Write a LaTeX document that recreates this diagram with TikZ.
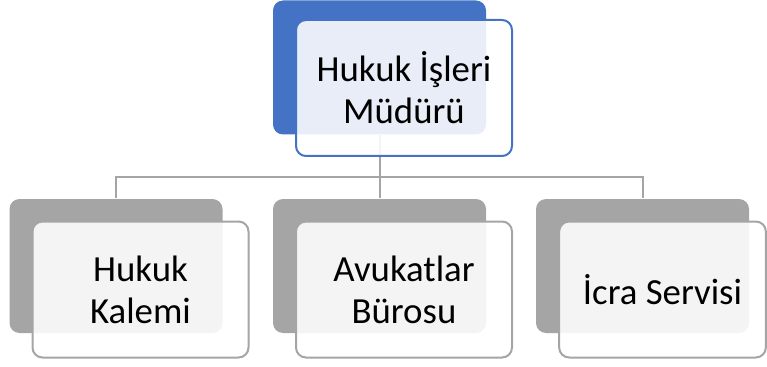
\documentclass[tikz,border=0pt]{standalone}
\usepackage{fontspec}
\setmainfont{Carlito}
\usepackage{tikz}
\definecolor{topblue}{HTML}{4472C4}
\definecolor{midgray}{HTML}{A5A5A5}

\begin{document}
\begin{tikzpicture}[x=0.75pt, y=-0.75pt, thick]
        \tikzstyle{back} = [rectangle, rounded corners=7.5pt, minimum width=159.75pt, minimum height=100.5pt, inner sep=0pt]
        \tikzstyle{front} = [rectangle, draw, line width=1.5pt, fill=white, fill opacity=0.88, text opacity=1, rounded corners=7.5pt, minimum width=162pt, minimum height=102pt, align=center, font=\fontsize{27.6pt}{31.5pt}\selectfont]
        \tikzstyle{conn} = [draw=midgray, line width=1.5pt]
        \useasboundingbox (0,0) rectangle (767,367);
        % connectors
        \node[back] (mudurB) at (379.5,67.5) {};
        \coordinate (bus) at (379.5,177);
        \node[back] (kalemiB) at (116,266) {};
        \node[back] (avukatB) at (379.5,266) {};
        \node[back] (icraB) at (642.5,266) {};
        \draw[conn] (mudurB.south) -- (bus);
        \draw[conn] (kalemiB.north) |- (bus) -| (icraB.north);
        \draw[conn] (bus) -- (avukatB.north);
        % boxes
        \node[back, fill=topblue] at (mudurB) {};
        \node[back, fill=midgray] at (kalemiB) {};
        \node[back, fill=midgray] at (avukatB) {};
        \node[back, fill=midgray] at (icraB) {};
        \node[front, draw=topblue] (mudur) at (404,88) {Hukuk İşleri\\Müdürü};
        \node[front, draw=midgray] (kalemi) at (140.5,289.5) {Hukuk\\Kalemi};
        \node[front, draw=midgray] (avukat) at (404,289.5) {Avukatlar\\Bürosu};
        \node[front, draw=midgray, minimum width=155pt] (icra) at (662.5,289.5) {İcra Servisi};
    \end{tikzpicture}
\end{document}
